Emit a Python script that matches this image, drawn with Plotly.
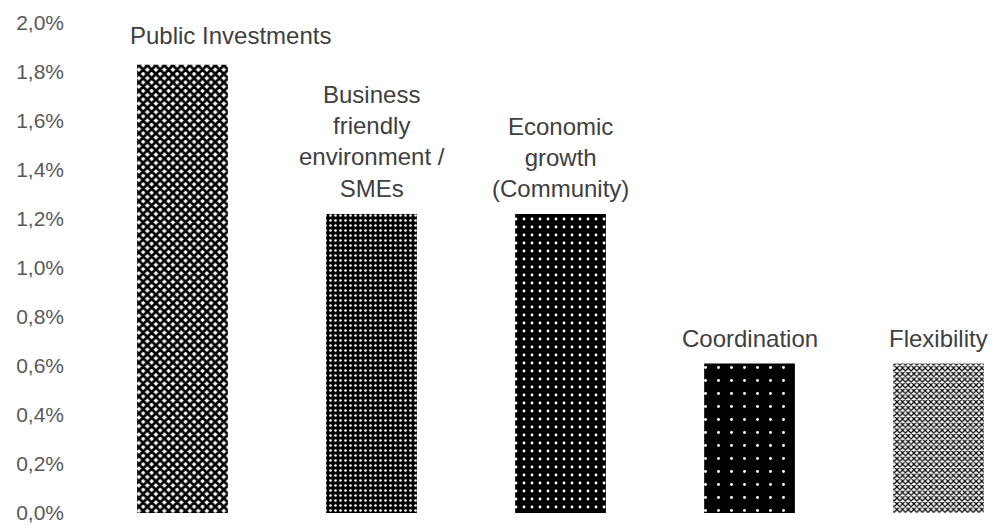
import plotly.graph_objects as go

# Share of mentions per theme (fraction, shown as %)
categories = ["Public Investments", "Business friendly environment / SMEs",
              "Economic growth (Community)", "Coordination", "Flexibility"]
label_texts = ["Public Investments", "Business<br>friendly<br>environment /<br>SMEs",
               "Economic<br>growth<br>(Community)", "Coordination", "Flexibility"]
values = [0.0183, 0.0122, 0.0122, 0.0061, 0.0061]
y_ticks = [0.0, 0.002, 0.004, 0.006, 0.008, 0.010, 0.012, 0.014, 0.016, 0.018, 0.020]

# per-bar fill patterns (shape, size, solidity, fg, bg)
patterns = [
    dict(shape="x", size=6, solidity=0.7, fgcolor="black", bgcolor="white"),
    dict(shape=".", size=5, solidity=0.2, fgcolor="white", bgcolor="black"),
    dict(shape=".", size=8, solidity=0.1, fgcolor="white", bgcolor="black"),
    dict(shape=".", size=13, solidity=0.04, fgcolor="white", bgcolor="black"),
    dict(shape="x", size=4, solidity=0.5, fgcolor="black", bgcolor="white"),
]

fig = go.Figure()
for i, (cat, val, pat) in enumerate(zip(categories, values, patterns)):
    fig.add_trace(go.Bar(
        x=[i], y=[val], name=cat, width=0.48,
        marker=dict(color=pat["bgcolor"], line=dict(width=0),
                    pattern=dict(fillmode="replace", **pat)),
        showlegend=False, hoverinfo="skip",
    ))

x_shifts = [48, 0, 0, 0, 0]
y_shifts = [14, 10, 10, 10, 10]
for i, (txt, val) in enumerate(zip(label_texts, values)):
    fig.add_annotation(
        x=i, y=val, text=txt, showarrow=False, xanchor="center", yanchor="bottom",
        yshift=y_shifts[i], xshift=x_shifts[i],
        font=dict(family="Liberation Sans, Arial", size=24, color="#404040"),
    )

fig.update_layout(
    width=996, height=528,
    margin=dict(l=88, r=0, t=23, b=15),
    paper_bgcolor="white", plot_bgcolor="white",
    separators=",.",
    bargap=0.52,
)
fig.update_xaxes(range=[-0.5, 4.304], showticklabels=False, showgrid=False,
                 zeroline=False, showline=False, ticks="")
fig.update_yaxes(range=[0, 0.02], tickvals=y_ticks, tickformat=".1%",
                 showgrid=False, zeroline=False, showline=False, ticks="",
                 ticklabelstandoff=23,
                 tickfont=dict(family="Liberation Sans, Arial", size=21, color="#595959"))

fig.write_html("out.html")
